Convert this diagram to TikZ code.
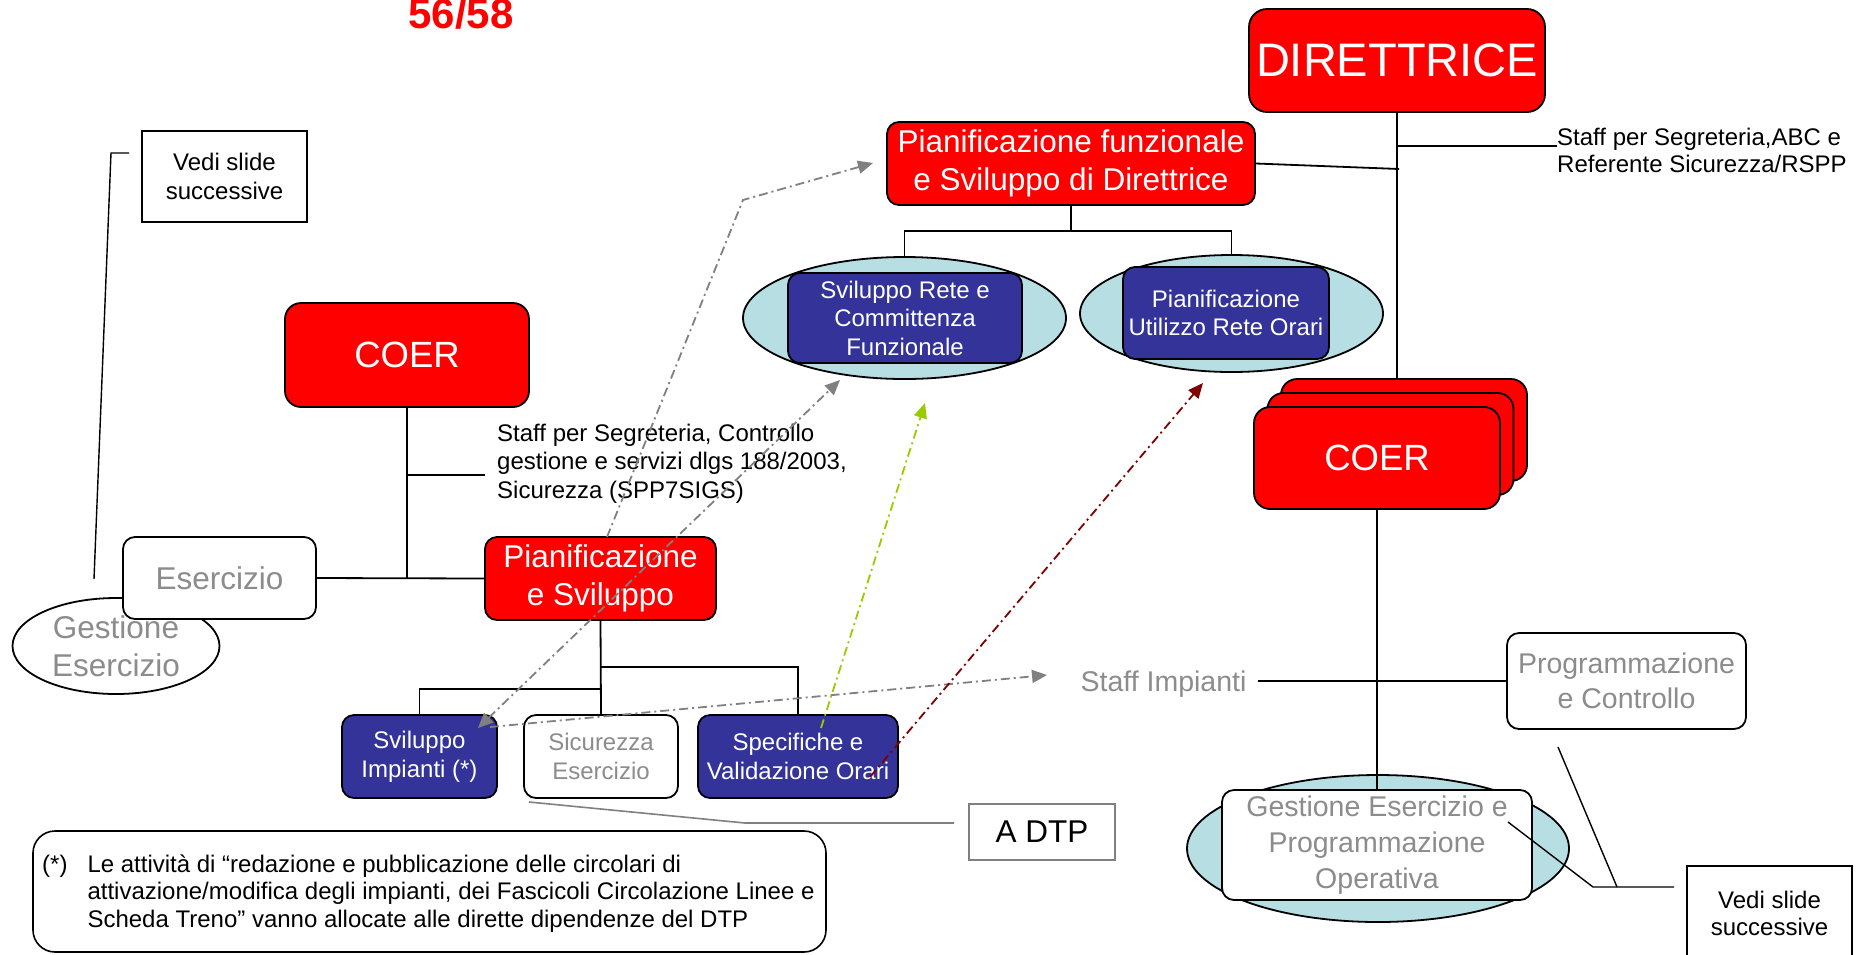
\documentclass[tikz,border=0pt]{standalone}
\usepackage{fontspec}
\setmainfont{Liberation Sans}
\usetikzlibrary{arrows.meta,shapes.geometric}
\definecolor{rfired}{RGB}{255,0,0}
\definecolor{navyfill}{RGB}{51,51,153}
\definecolor{ellfill}{RGB}{183,222,226}
\definecolor{txtgrey}{RGB}{140,140,140}
\definecolor{dashgrey}{RGB}{128,128,128}
\definecolor{lgreen}{RGB}{153,204,0}
\definecolor{dred}{RGB}{128,0,0}
\newcommand\myfs[2]{\fontsize{#1}{#2}\selectfont}
\begin{document}
\begin{tikzpicture}[x=1pt,y=-1pt,
  box/.style={draw=black, line width=1.8pt, rounded corners=12pt, inner sep=0pt, align=center},
  redbox/.style={box, fill=rfired, text=white},
  navybox/.style={box, fill=navyfill, text=white},
  whitebox/.style={box, fill=white, text=txtgrey},
  ell/.style={ellipse, draw=black, line width=1.8pt, fill=ellfill, inner sep=0pt},
  plainbox/.style={draw=black, line width=1.6pt, inner sep=0pt, align=center},
  freetext/.style={inner sep=0pt, align=left},
  conn/.style={draw=black, line width=1.8pt},
  thin/.style={draw=black, line width=1.4pt},
  dd/.style={line width=1.8pt, dash pattern=on 9pt off 4pt on 2pt off 4pt},
  tipend/.style={-{Triangle[length=15pt,width=13pt]}},
  tipboth/.style={{Triangle[length=15pt,width=13pt]}-{Triangle[length=15pt,width=13pt]}}
]
\useasboundingbox (0,0) rectangle (1859,954);
\fill[white] (0,0) rectangle (1859,954);

% title
\node[anchor=base, inner sep=0pt, text=rfired, font=\myfs{42}{48}\bfseries] (title) at (461,28) {56/58};

% ---------- left part ----------
\node[plainbox, minimum width=165pt, minimum height=91pt, font=\myfs{24}{29}] (vedi1) at (224.5,176.5) {Vedi slide\\successive};
\node[redbox, rounded corners=16pt, minimum width=244pt, minimum height=104pt, font=\myfs{36.5}{42}] (coerL) at (407,355) {COER};
\node[freetext, anchor=west, font=\myfs{24}{28.3}] (staffL) at (497,463.7) {Staff per Segreteria, Controllo\\gestione e servizi dlgs 188/2003,\\Sicurezza (SPP7SIGS)};
\node[ellipse, draw=black, line width=1.8pt, fill=white, inner sep=0pt, minimum width=207pt, minimum height=96pt, text=txtgrey, align=center, font=\myfs{31.5}{37.5}] (gest) at (116,646) {Gestione\\Esercizio};
\node[whitebox, minimum width=193pt, minimum height=82pt, font=\myfs{31.5}{38}] (eserc) at (219.5,578) {Esercizio};
\node[redbox, minimum width=231pt, minimum height=83pt, font=\myfs{31.5}{38}] (pians) at (600.5,578.5) {Pianificazione\\e Sviluppo};
\node[navybox, minimum width=155pt, minimum height=83pt, font=\myfs{24}{29}] (svimp) at (419.5,756.5) {Sviluppo\\Impianti (*)};
\node[whitebox, minimum width=154pt, minimum height=83pt, font=\myfs{24}{29}] (sicur) at (601,756.5) {Sicurezza\\Esercizio};
\node[navybox, minimum width=200pt, minimum height=83pt, font=\myfs{24}{29}] (specif) at (798,756.5) {Specifiche e\\Validazione Orari};
\node[draw=dashgrey, line width=1.5pt, inner sep=0pt, minimum width=146pt, minimum height=56pt, font=\myfs{31.5}{36}] (adtp) at (1042,832) {A DTP};
\node[draw=black, line width=1.6pt, rounded corners=22pt, minimum width=793pt, minimum height=121pt, inner sep=0pt] (foot) at (429.5,891.5) {};
\node[anchor=west, inner sep=0pt, font=\myfs{24}{27.5}] (foottext) at (42,894) {\begin{tabular}{@{}l@{\hspace{20pt}}l@{}}(*) & Le attività di “redazione e pubblicazione delle circolari di\\ & attivazione/modifica degli impianti, dei Fascicoli Circolazione Linee e\\ & Scheda Treno” vanno allocate alle dirette dipendenze del DTP\end{tabular}};

% ---------- right part ----------
\node[redbox, rounded corners=18pt, minimum width=296pt, minimum height=103pt, font=\myfs{47}{52}] (dir) at (1397,60.5) {DIRETTRICE};
\node[redbox, minimum width=368pt, minimum height=83pt, font=\myfs{31.5}{38}] (pianf) at (1071,163.5) {Pianificazione funzionale\\e Sviluppo di Direttrice};
\node[freetext, anchor=west, font=\myfs{24}{27}] (staffR) at (1557,150) {Staff per Segreteria,ABC e\\Referente Sicurezza/RSPP};
\node[ell, minimum width=323pt, minimum height=122pt] (sre) at (904.5,318) {};
\node[navybox, minimum width=234pt, minimum height=90pt, font=\myfs{24}{28.5}] (sr) at (905,318) {Sviluppo Rete e\\Committenza\\Funzionale};
\node[ell, minimum width=303pt, minimum height=117pt] (pue) at (1231.5,313.5) {};
\node[navybox, minimum width=206pt, minimum height=92pt, font=\myfs{24}{28.5}] (pu) at (1226,313) {Pianificazione\\Utilizzo Rete Orari};
\node[redbox, rounded corners=16pt, minimum width=246pt, minimum height=102pt] (coerb) at (1404,430) {};
\node[redbox, rounded corners=16pt, minimum width=246pt, minimum height=102pt] (coerm) at (1390.5,444) {};
\node[redbox, rounded corners=16pt, minimum width=246pt, minimum height=102pt, font=\myfs{36.5}{42}] (coerf) at (1377,458) {COER};
\node[inner xsep=11pt, inner ysep=0pt, text=txtgrey, font=\myfs{28.5}{34}] (staffimp) at (1163.5,684) {Staff Impianti};
\node[whitebox, minimum width=239pt, minimum height=96pt, font=\myfs{28.5}{35}] (progr) at (1626.5,681) {Programmazione\\e Controllo};
\node[ell, minimum width=382pt, minimum height=147pt] (geope) at (1378,848.5) {};
\node[whitebox, minimum width=310pt, minimum height=110pt, font=\myfs{28.5}{36}] (geop) at (1377,845) {Gestione Esercizio e\\Programmazione\\Operativa};
\node[plainbox, minimum width=165pt, minimum height=94pt, font=\myfs{24}{27}] (vedi2) at (1769.5,913) {Vedi slide\\successive};

% ---------- connectors ----------
\draw[conn] (coerL.south) -- (coerL.south |- eserc.east);
\draw[conn] (eserc.east) -- (pians.west);
\coordinate (stL) at (485,475);
\draw[conn] (stL -| coerL.south) -- (stL);
\draw[conn] (pians.south) -- (sicur.north);
\coordinate (jL) at (601,689);
\coordinate (jR) at (601,667);
\draw[conn] (jL) -| (svimp.north);
\draw[conn] (jR) -| (specif.north);

\coordinate (b1) at (129,153);
\coordinate (b2) at (111,153);
\coordinate (b3) at (94,579);
\draw[thin] (b1) -- (b2) -- (b3);

\coordinate (t1) at (529,802);
\coordinate (t2) at (745,823);
\coordinate (t3) at (954,823);
\draw[draw=dashgrey, line width=1.6pt] (t1) -- (t2) -- (t3);

\draw[conn] (dir.south) -- (dir.south |- coerb.north);
\coordinate (pjoin) at (1399,169);
\draw[conn] (pianf.east) -- (pjoin);
\coordinate (sR) at (1397,146);
\draw[conn] (sR) -- (sR -| staffR.west);
\coordinate (pj) at (1071,231);
\draw[conn] (pianf.south) -- (pj);
\draw[conn] (sre.north) |- (pue.north |- pj) -- (pue.north);
\draw[conn] (coerf.south) -- (geop.north);
\draw[conn] (progr.west) -- (progr.west -| staffimp.east);

\coordinate (v2a) at (1508,822);
\coordinate (v2b) at (1593,887);
\coordinate (v2c) at (1674,887);
\coordinate (v2d) at (1558,747);
\coordinate (v2e) at (1617,887);
\draw[thin] (v2a) -- (v2b) -- (v2c);
\draw[thin] (v2d) -- (v2e);

% ---------- dash-dot arrows ----------
\coordinate (d1a) at (478,728);
\coordinate (d1b) at (840,380);
\draw[dd, dashgrey, tipboth] (d1a) -- (d1b);
\coordinate (d2a) at (490,727);
\coordinate (d2b) at (1047,675);
\draw[dd, dashgrey, tipend] (d2a) -- (d2b);
\coordinate (d3a) at (607,537);
\coordinate (d3b) at (743,200);
\coordinate (d3c) at (873,163);
\draw[dd, dashgrey, tipend] (d3a) -- (d3b) -- (d3c);
\coordinate (d4a) at (821,728);
\coordinate (d4b) at (925,403);
\draw[dd, lgreen, tipend] (d4a) -- (d4b);
\coordinate (d5a) at (870,777);
\coordinate (d5b) at (1203,383);
\draw[dd, dred, tipend] (d5a) -- (d5b);
\end{tikzpicture}
\end{document}
